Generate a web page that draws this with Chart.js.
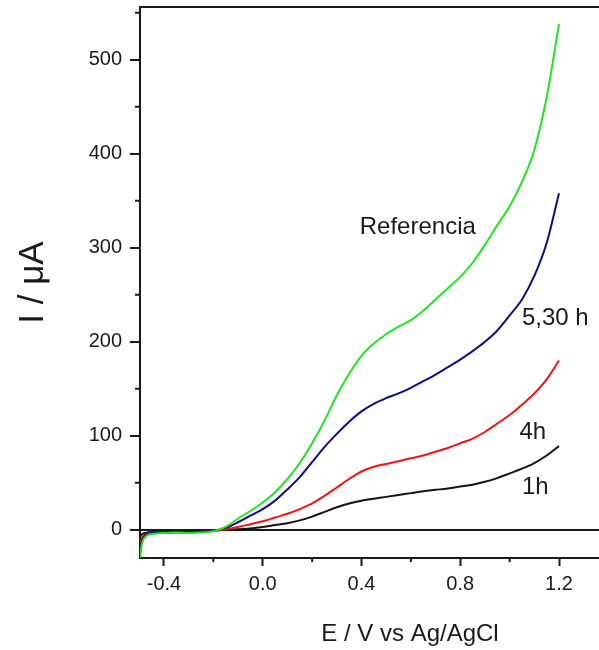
<!DOCTYPE html>
<html>
<head>
<meta charset="utf-8">
<script src="https://cdn.jsdelivr.net/npm/chart.js@4.4.1/dist/chart.umd.min.js"></script>
<style>
  html, body { margin: 0; padding: 0; background: #fff; overflow: hidden; width: 599px; height: 650px; }
  canvas { display: block; }
</style>
</head>
<body>
<canvas id="c" width="680" height="650"></canvas>
<script>
const potential = [-0.497, -0.49, -0.48, -0.46, -0.43, -0.4, -0.35, -0.3, -0.25, -0.2, -0.15, -0.1, -0.05, 0, 0.05, 0.1, 0.15, 0.2, 0.25, 0.3, 0.35, 0.4, 0.45, 0.5, 0.55, 0.6, 0.65, 0.7, 0.75, 0.8, 0.85, 0.9, 0.95, 1.0, 1.05, 1.1, 1.15, 1.2];
const iReferencia = [-30, -16, -9, -5, -4, -3.5, -3, -3.5, -3, -1.5, 3, 12, 20, 29, 40, 54, 71, 92, 116, 143, 166, 185, 198, 208, 216, 223, 233, 245, 257, 269, 284, 303, 324, 344, 370, 404, 460, 538];
const i530h = [-25, -13, -7, -4, -3, -3, -2.5, -2.5, -2, -1, 2, 8, 15, 22, 31, 43, 56, 72, 88, 102, 115, 126, 134, 140, 145, 151, 158, 165, 173, 181, 190, 200, 212, 228, 245, 270, 305, 358];
const i4h = [-18, -10, -6, -4, -3, -3, -2.5, -2.5, -2, -1, 0.5, 3, 6, 9, 13, 17, 22, 28, 36, 45, 54, 62, 67, 70, 73, 76, 79, 83, 87, 92, 97, 104, 113, 122, 133, 145, 160, 180];
const i1h = [-8, -5, -3.5, -2.5, -2, -2, -2, -2, -1.5, -1, 0, 0.5, 1.5, 3, 5, 7, 10, 14, 19, 24, 28, 31, 33, 35, 37, 39, 41, 42.5, 44, 46, 48, 51, 55, 60, 65, 71, 79, 89];
const seriesNames = ['Referencia', '5,30 h', '4h', '1h'];
const xMajorTicks = [-0.4, 0.0, 0.4, 0.8, 1.2];
const xMinorTicks = [-0.2, 0.2, 0.6, 1.0];
const yMajorTicks = [0, 100, 200, 300, 400, 500];
const yMinorTicks = [50, 150, 250, 350, 450, 550];
const xTitle = 'E / V vs Ag/AgCl';
const yTitle = 'I / \u03bcA';

const FONT = '"Liberation Sans", Arial, Helvetica, sans-serif';
const INK = '#1a1a1a';

function pts(ys) { return potential.map((x, i) => ({ x: x, y: ys[i] })); }

const decor = {
  id: 'decor',
  afterDraw(chart) {
    const { ctx, chartArea, scales } = chart;
    const xs = scales.x, ys = scales.y;
    ctx.save();
    ctx.strokeStyle = INK;
    ctx.lineWidth = 2;
    ctx.beginPath();
    ctx.moveTo(chartArea.left - 1, chartArea.top);
    ctx.lineTo(chartArea.right, chartArea.top);
    ctx.stroke();
    ctx.beginPath();
    xMinorTicks.forEach(v => {
      const px = xs.getPixelForValue(v);
      ctx.moveTo(px, chartArea.bottom);
      ctx.lineTo(px, chartArea.bottom + 4);
    });
    yMinorTicks.forEach(v => {
      const py = ys.getPixelForValue(v);
      ctx.moveTo(chartArea.left, py);
      ctx.lineTo(chartArea.left - 5, py);
    });
    ctx.stroke();
    ctx.fillStyle = INK;
    ctx.font = '24px ' + FONT;
    ctx.textBaseline = 'middle';
    ctx.textAlign = 'left';
    const spots = [[0.393, 322], [1.05, 225], [1.04, 104], [1.05, 45]];
    seriesNames.forEach((t, i) => {
      ctx.fillText(t, xs.getPixelForValue(spots[i][0]), ys.getPixelForValue(spots[i][1]));
    });
    ctx.restore();
  }
};

new Chart(document.getElementById('c'), {
  type: 'line',
  data: {
    datasets: [
      { label: seriesNames[0], data: pts(iReferencia), borderColor: '#1fe61f' },
      { label: seriesNames[1], data: pts(i530h), borderColor: '#0c0c85' },
      { label: seriesNames[2], data: pts(i4h), borderColor: '#f21414' },
      { label: seriesNames[3], data: pts(i1h), borderColor: '#141414' }
    ]
  },
  options: {
    responsive: false,
    animation: false,
    layout: { padding: { top: 7, right: 0, left: 0, bottom: 0 } },
    elements: {
      point: { radius: 0 },
      line: { borderWidth: 2, cubicInterpolationMode: 'monotone', fill: false }
    },
    plugins: { legend: { display: false }, tooltip: { enabled: false } },
    scales: {
      x: {
        type: 'linear',
        min: -0.497,
        max: 1.69,
        afterBuildTicks: s => { s.ticks = xMajorTicks.map(v => ({ value: v })); },
        afterFit: s => { s.height = 92; s.paddingLeft = 0; s.paddingRight = 0; },
        ticks: {
          callback: v => v.toFixed(1),
          font: { family: FONT, size: 20 },
          color: INK,
          padding: 6,
          maxRotation: 0,
          autoSkip: false
        },
        grid: { drawOnChartArea: false, drawTicks: true, tickLength: 8, tickColor: INK, tickWidth: 2 },
        border: { color: INK, width: 2 },
        title: { display: true, text: xTitle, font: { family: FONT, size: 24 }, color: INK, padding: { top: 0, bottom: 1 } }
      },
      y: {
        type: 'linear',
        min: -30,
        max: 556,
        afterBuildTicks: s => { s.ticks = yMajorTicks.map(v => ({ value: v })); },
        afterFit: s => { s.width = 140; s.paddingTop = 0; s.paddingBottom = 0; },
        ticks: {
          callback: v => String(v),
          font: { family: FONT, size: 20 },
          color: INK,
          padding: 8,
          autoSkip: false
        },
        grid: {
          drawOnChartArea: true,
          drawTicks: true,
          tickLength: 10,
          tickColor: INK,
          tickWidth: 2,
          lineWidth: 2,
          color: c => (c.tick && c.tick.value === 0) ? INK : 'rgba(0,0,0,0)'
        },
        border: { color: INK, width: 2 },
        title: { display: true, text: yTitle, font: { family: FONT, size: 35 }, color: INK, padding: { top: 12, bottom: 0 } }
      }
    }
  },
  plugins: [decor]
});
</script>
</body>
</html>
